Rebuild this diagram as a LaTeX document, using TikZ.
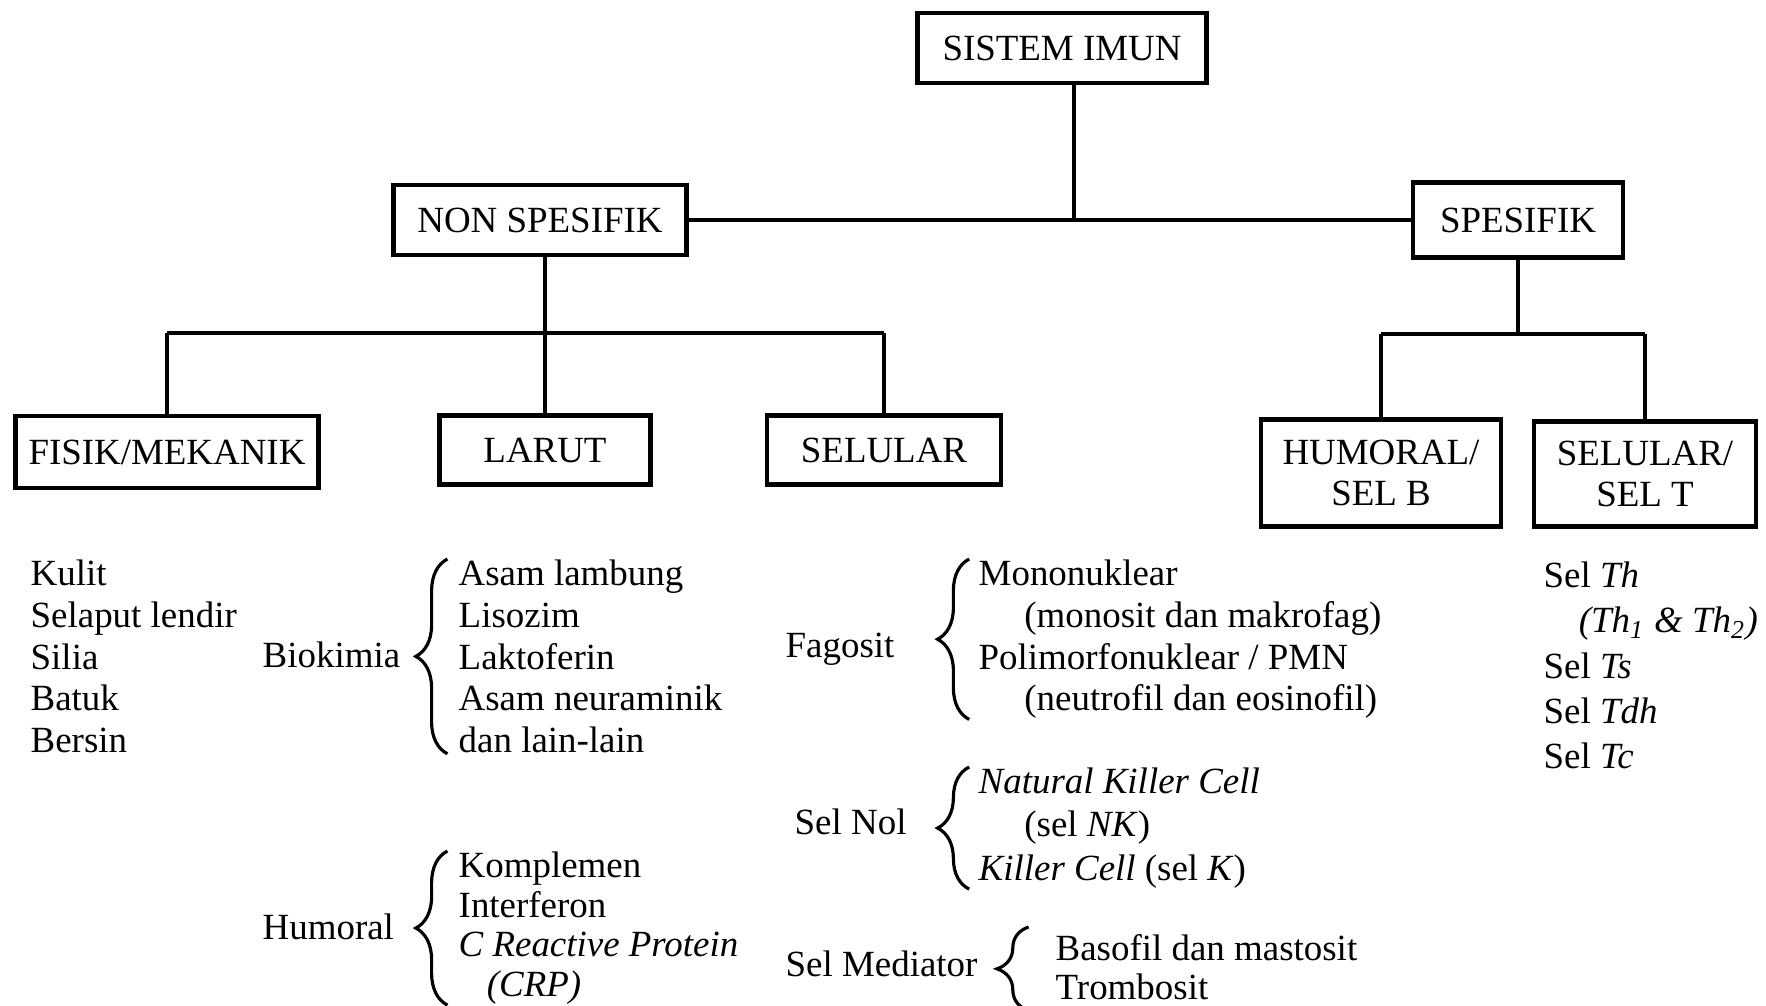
\documentclass[tikz,border=0pt]{standalone}
\usepackage{fontspec}
\setmainfont{Liberation Serif}
\usetikzlibrary{decorations.pathreplacing}

\tikzset{
  box/.style={draw, rectangle, line width=1.2pt, inner sep=2pt, align=center,
    font=\fontsize{10.5}{11.7}\selectfont},
  link/.style={line width=0.9pt},
  bus/.style={line width=1.4pt},
  item/.style={inner sep=0pt, align=left, anchor=north west},
  grouptext/.style={inner sep=0pt, anchor=base west},
  curly/.style={decorate, decoration={brace, amplitude=9pt}, line width=0.9pt}
}

\begin{document}
\begin{tikzpicture}[x=0.01cm, y=-0.01cm, font=\fontsize{10.5}{11.9}\selectfont]
    \useasboundingbox (0,0) rectangle (1766,1005);

    % boxes
    \node (sistemimun) [box, minimum width=2.89cm, minimum height=0.70cm] at (1062,48) {SISTEM IMUN};
    \node (nonspesifik) [box, minimum width=2.93cm, minimum height=0.70cm] at (540,220) {NON SPESIFIK};
    \node (spesifik) [box, minimum width=2.10cm, minimum height=0.75cm] at (1518,220) {SPESIFIK};
    \node (fisik) [box, minimum width=3.03cm, minimum height=0.72cm] at (167,452) {FISIK/MEKANIK};
    \node (larut) [box, minimum width=2.11cm, minimum height=0.69cm] at (545,450) {LARUT};
    \node (selular) [box, minimum width=2.34cm, minimum height=0.69cm] at (884,450) {SELULAR};
    \node (humoral) [box, minimum width=2.40cm, minimum height=1.07cm] at (1381,473) {HUMORAL/\\SEL B};
    \node (selulart) [box, minimum width=2.22cm, minimum height=1.05cm] at (1645,474) {SELULAR/\\SEL T};

    % tree lines
    \coordinate (busnon) at (0,333);
    \coordinate (busspe) at (0,334);
    \draw [bus] (nonspesifik.east) -- (spesifik.west);
    \draw [link] ([xshift=0.12cm]sistemimun.south) -- ([xshift=0.12cm]sistemimun.south |- nonspesifik.east);
    \draw [link] (nonspesifik.south -| larut.north) -- (larut.north);
    \draw [bus] (fisik.north |- busnon) -- (selular.north |- busnon);
    \foreach \n in {fisik, selular}
        \draw [link] (\n.north) -- (\n.north |- busnon);
    \draw [link] (spesifik.south) -- (spesifik.south |- busspe);
    \draw [bus] (humoral.north |- busspe) -- (selulart.north |- busspe);
    \foreach \n in {humoral, selulart}
        \draw [link] (\n.north) -- (\n.north |- busspe);

    % fisik/mekanik
    \node (fisiklist) [item] at (30,559) {Kulit\\Selaput lendir\\Silia\\Batuk\\Bersin};

    % larut
    \node (biokimia) [grouptext] at (262,667) {Biokimia};
    \node (biolist) [item] at (458,559) {Asam lambung\\Lisozim\\Laktoferin\\Asam neuraminik\\dan lain-lain};
    \draw [curly] ([xshift=-3pt]biolist.south west) -- ([xshift=-3pt]biolist.north west);

    \node (humoraltxt) [grouptext] at (262,939) {Humoral};
    \node (humlist) [item, font=\fontsize{10.5}{11.3}\selectfont] at (458,851)
        {Komplemen\\Interferon\\\textit{C Reactive Protein}\\\hspace*{8pt}\textit{(CRP)}};
    \draw [curly] ([xshift=-3pt]humlist.south west) -- ([xshift=-3pt]humlist.north west);

    % selular
    \node (fagosit) [grouptext] at (785,657) {Fagosit};
    \node (faglist) [item] at (978,559)
        {Mononuklear\\\hspace*{13pt}(monosit dan makrofag)\\Polimorfonuklear / PMN\\\hspace*{13pt}(neutrofil dan eosinofil)};
    \draw [curly] ([xshift=-2.5pt]faglist.south west) -- ([xshift=-2.5pt]faglist.north west);

    \node (selnol) [grouptext] at (794,834) {Sel Nol};
    \node (nollist) [item, font=\fontsize{10.5}{12.4}\selectfont] at (978,767)
        {\textit{Natural Killer Cell}\\\hspace*{13pt}(sel \textit{NK})\\\textit{Killer Cell} (sel \textit{K})};
    \draw [curly] ([xshift=-2.5pt]nollist.south west) -- ([xshift=-2.5pt]nollist.north west);

    \node (selmediator) [grouptext] at (785,976) {Sel Mediator};
    \node (medlist) [item, font=\fontsize{10.5}{10.9}\selectfont] at (1055,934)
        {Basofil dan mastosit\\Trombosit};
    \draw [curly] ([xshift=-7.5pt,yshift=-3pt]medlist.south west) -- ([xshift=-7.5pt,yshift=2pt]medlist.north west);

    % selular/sel T
    \node (sellist) [item, font=\fontsize{10.5}{12.9}\selectfont] at (1543,561)
        {Sel \textit{Th}\\\hspace*{10pt}\textit{(Th\textsubscript{1} \& Th\textsubscript{2})}\\Sel \textit{Ts}\\Sel \textit{Tdh}\\Sel \textit{Tc}};
\end{tikzpicture}
\end{document}
